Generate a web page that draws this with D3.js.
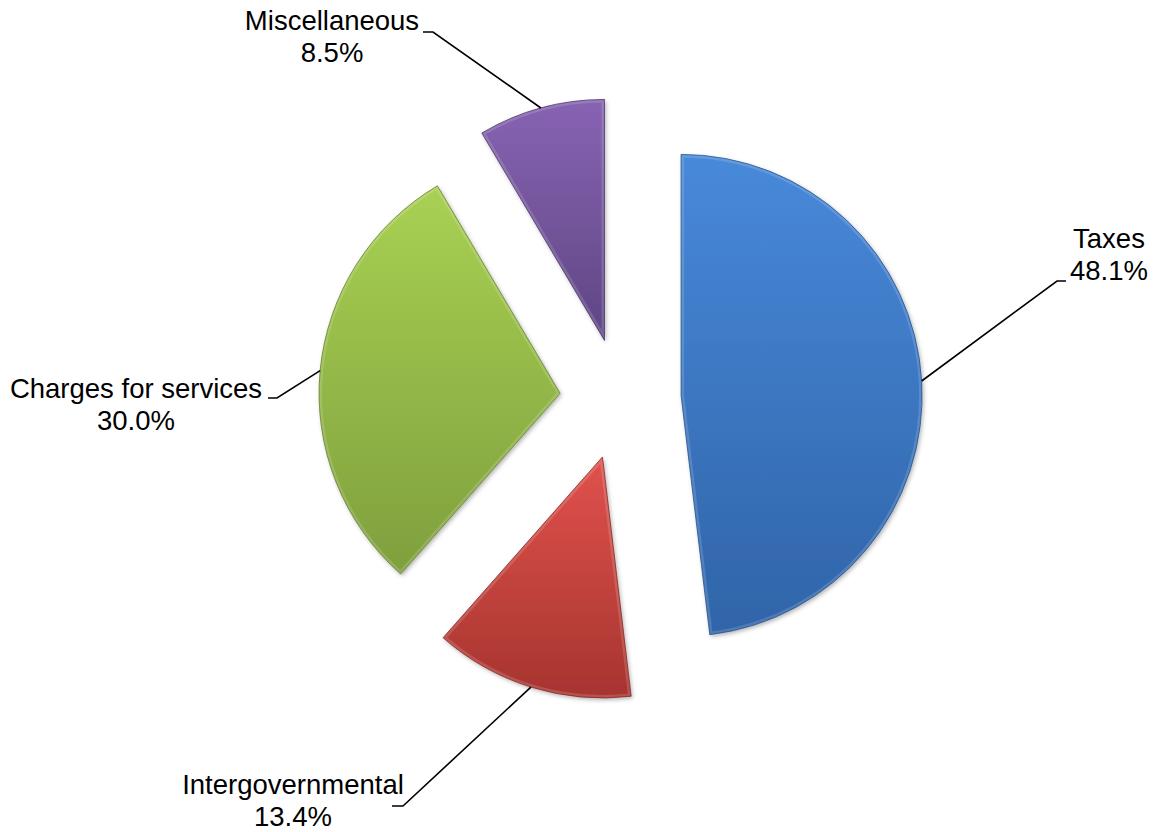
<!DOCTYPE html>
<html>
<head>
<meta charset="utf-8">
<script src="https://cdn.jsdelivr.net/npm/d3@7"></script>
<style>
  html, body { margin: 0; padding: 0; background: #ffffff; }
  svg { display: block; }
  text { font-family: "Liberation Sans", Arial, sans-serif; fill: #000; }
</style>
</head>
<body>
<svg id="chart" width="1154" height="832"></svg>
<script>
// ---- data ----
const categories = ["Taxes", "Intergovernmental", "Charges for services", "Miscellaneous"];
const values = [48.1, 13.4, 30.0, 8.5];
const percentLabels = ["48.1%", "13.4%", "30.0%", "8.5%"];

// ---- styles ----
const topColors = ["#4889da", "#e1524d", "#a8d153", "#8863b3"];
const bottomColors = ["#3064a8", "#a6342f", "#7f9f3d", "#5e4683"];
const edgeColors = ["#28548c", "#862925", "#66812f", "#4b376a"];

// ---- layout ----
const cx = 620.5, cy = 399, radius = 241, explode = 60.7;
const fontSize = 27.5, lineHeight = 32;
const labelLayout = [
  { elbow: [1057, 281], end: [1066, 281], text: [1109, 248] },
  { elbow: [403, 806], end: [392, 806], text: [293, 794] },
  { elbow: [277, 398], end: [268, 398], text: [136, 398] },
  { elbow: [433, 32], end: [423, 32], text: [332, 30] }
];

const svg = d3.select("#chart");
const defs = svg.append("defs");

const shadow = defs.append("filter").attr("id", "shadow")
  .attr("x", "-10%").attr("y", "-10%").attr("width", "120%").attr("height", "120%");
shadow.append("feDropShadow").attr("dx", 1.5).attr("dy", 2).attr("stdDeviation", 2)
  .attr("flood-color", "#000").attr("flood-opacity", 0.3);

categories.forEach((c, i) => {
  const g = defs.append("linearGradient").attr("id", "grad" + i)
    .attr("x1", 0).attr("y1", 0).attr("x2", 0).attr("y2", 1);
  g.append("stop").attr("offset", "0%").attr("stop-color", topColors[i]);
  g.append("stop").attr("offset", "100%").attr("stop-color", bottomColors[i]);
});

const pie = d3.pie().sort(null).value(d => d.value).startAngle(0).endAngle(2 * Math.PI);
const data = categories.map((c, i) => ({ name: c, value: values[i], pct: percentLabels[i], idx: i }));
const arcs = pie(data);
const arc = d3.arc().innerRadius(0).outerRadius(radius);

const root = svg.append("g").attr("transform", `translate(${cx},${cy})`);

arcs.forEach((a, i) => {
  a.clipId = "clip" + i;
  defs.append("clipPath").attr("id", a.clipId).append("path").attr("d", arc(a));
});

const slices = root.selectAll("g.slice").data(arcs).join("g")
  .attr("class", "slice")
  .attr("transform", d => {
    const m = (d.startAngle + d.endAngle) / 2;
    return `translate(${explode * Math.sin(m)},${-explode * Math.cos(m)})`;
  });

slices.append("path")
  .attr("d", d => arc(d))
  .attr("fill", d => `url(#grad${d.index})`)
  .attr("filter", "url(#shadow)");

// bevel highlight (inner light edge)
slices.append("path")
  .attr("d", d => arc(d))
  .attr("fill", "none")
  .attr("stroke", "#ffffff")
  .attr("stroke-opacity", 0.15)
  .attr("stroke-width", 6)
  .attr("stroke-linejoin", "round")
  .attr("clip-path", d => `url(#${d.clipId})`);

slices.append("path")
  .attr("d", d => arc(d))
  .attr("fill", "none")
  .attr("stroke", d => edgeColors[d.index])
  .attr("stroke-opacity", 0.8)
  .attr("stroke-width", 1);

// ---- leader lines & labels ----
arcs.forEach((a, i) => {
  const m = (a.startAngle + a.endAngle) / 2;
  const ox = cx + explode * Math.sin(m) + radius * Math.sin(m);
  const oy = cy - explode * Math.cos(m) - radius * Math.cos(m);
  const L = labelLayout[i];
  svg.append("polyline")
    .attr("points", [[ox, oy], L.elbow, L.end].map(p => p.join(",")).join(" "))
    .attr("fill", "none")
    .attr("stroke", "#000")
    .attr("stroke-width", 1.6);
  const t = svg.append("text")
    .attr("x", L.text[0]).attr("y", L.text[1])
    .attr("text-anchor", "middle")
    .attr("font-size", fontSize);
  t.append("tspan").attr("x", L.text[0]).attr("y", L.text[1]).text(a.data.name);
  t.append("tspan").attr("x", L.text[0]).attr("y", L.text[1] + lineHeight).text(a.data.pct);
});
</script>
</body>
</html>
